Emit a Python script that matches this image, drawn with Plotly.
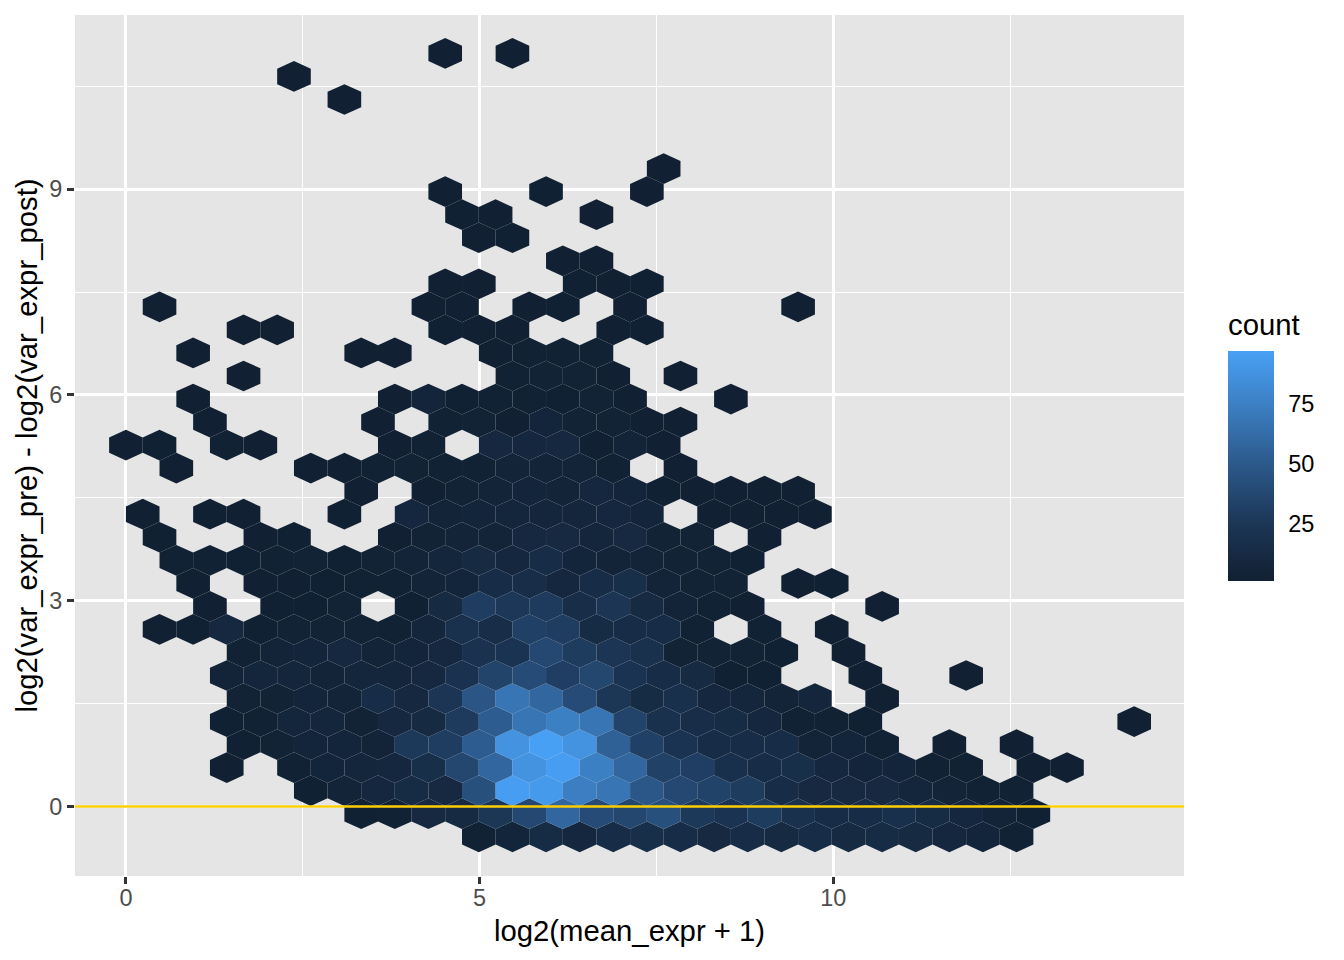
import plotly.graph_objects as go

# Hexagon bins: column index, count, per row (row 0 is the lowest)
cols_r00 = [21,23,25,27,29,31,33,35,37,39,41,43,45,47,49,51,53]
vals_r00 = [3,6,13,9,15,17,14,11,14,12,14,12,13,12,9,6,3]
cols_r01 = [14,16,18,20,22,24,26,28,30,32,34,36,38,40,42,44,46,48,50,52,54]
vals_r01 = [2,3,11,12,25,38,58,40,37,43,27,22,29,20,15,14,18,13,9,5,2]
cols_r02 = [11,13,15,17,19,21,23,25,27,29,31,33,35,37,39,41,43,45,47,49,51,53]
vals_r02 = [2,5,9,13,11,43,95,93,74,68,48,38,34,29,14,11,11,11,7,5,3,3]
cols_r03 = [6,10,12,14,16,18,20,22,24,26,28,30,32,34,36,38,40,42,44,46,48,50,54,56]
vals_r03 = [1,3,6,7,9,17,37,58,88,95,75,58,33,31,18,14,17,9,6,6,3,3,1,1]
cols_r04 = [7,9,11,13,15,17,19,21,23,25,27,29,31,33,35,37,39,41,43,45,49,53]
vals_r04 = [2,4,6,6,5,27,30,52,88,97,88,55,32,22,15,14,14,5,6,3,1,1]
cols_r05 = [6,8,10,12,14,16,18,20,22,24,26,28,30,32,34,36,38,40,42,44,60]
vals_r05 = [2,3,7,8,4,10,12,28,52,68,75,68,35,20,16,13,9,3,3,2,1]
cols_r06 = [7,9,11,13,15,17,19,21,23,25,27,29,31,33,35,37,39,41,45]
vals_r06 = [4,4,6,5,15,10,24,47,68,58,40,25,13,18,9,8,5,8,1]
cols_r07 = [6,8,10,12,14,16,18,20,22,24,26,28,30,32,34,36,38,44,50]
vals_r07 = [5,7,7,5,7,8,10,21,35,40,31,37,22,15,12,2,2,1,1]
cols_r08 = [7,9,11,13,15,17,19,21,23,25,27,29,31,33,35,37,39,43]
vals_r08 = [3,5,6,10,5,6,10,21,22,38,29,24,20,4,4,4,2,1]
cols_r09 = [2,4,6,8,10,12,14,16,18,20,22,24,26,28,30,32,34,38,42]
vals_r09 = [1,2,10,2,4,4,4,3,7,20,16,32,30,13,15,14,3,3,1]
cols_r10 = [5,9,11,13,17,19,21,23,25,27,29,31,33,35,37,45]
vals_r10 = [1,2,2,4,2,12,30,26,28,16,24,12,5,3,1,1]
cols_r11 = [4,8,10,12,14,16,18,20,22,24,26,28,30,32,34,36,40,42]
vals_r11 = [1,1,1,2,3,3,5,6,14,16,9,15,17,5,4,4,1,2]
cols_r12 = [3,5,7,9,11,13,15,17,19,21,23,25,27,29,31,33,35,37]
vals_r12 = [3,3,2,3,4,2,4,5,7,12,9,15,6,5,5,4,4,2]
cols_r13 = [2,8,10,16,18,20,22,24,26,28,30,32,34,38]
vals_r13 = [2,1,2,1,4,5,5,10,11,8,11,4,4,1]
cols_r14 = [1,5,7,13,17,19,21,23,25,27,29,31,35,37,39,41]
vals_r14 = [1,2,1,2,9,5,6,7,8,7,9,6,1,1,1,1]
cols_r15 = [14,18,20,22,24,26,28,30,32,34,36,38,40]
vals_r15 = [1,1,4,5,6,5,9,6,2,1,1,1,1]
cols_r16 = [3,11,13,15,17,19,21,23,25,27,29,33]
vals_r16 = [1,1,1,3,4,3,3,5,5,5,3,1]
cols_r17 = [0,2,6,8,16,18,22,24,26,28,30,32]
vals_r17 = [1,2,3,1,1,3,10,9,10,1,5,1]
cols_r18 = [5,15,19,21,23,25,27,29,31,33]
vals_r18 = [1,1,3,4,1,6,4,4,1,1]
cols_r19 = [4,16,18,20,22,24,26,28,30,36]
vals_r19 = [1,1,6,2,3,3,2,4,1,1]
cols_r20 = [7,23,25,27,29,33]
vals_r20 = [1,3,4,4,1,1]
cols_r21 = [4,14,16,22,24,26,28]
vals_r21 = [1,1,1,1,3,3,3]
cols_r22 = [7,9,19,21,23,29,31]
vals_r22 = [1,1,2,1,1,1,2]
cols_r23 = [2,18,20,24,26,30,40]
vals_r23 = [1,1,1,1,2,1,1]
cols_r24 = [19,21,27,29,31]
vals_r24 = [1,1,2,1,2]
cols_r25 = [26,28]
vals_r25 = [1,1]
cols_r26 = [21,23]
vals_r26 = [1,2]
cols_r27 = [20,22,28]
vals_r27 = [2,1,1]
cols_r28 = [19,25,31]
vals_r28 = [1,2,1]
cols_r29 = [32]
vals_r29 = [1]
cols_r32 = [13]
vals_r32 = [1]
cols_r33 = [10]
vals_r33 = [1]
cols_r34 = [19,23]
vals_r34 = [1,1]

x_ticks = [0, 5, 10]
y_ticks = [0, 3, 6, 9]
legend_ticks = [25, 50, 75]
count_min, count_max = 1, 97

rows = [
    (0, cols_r00, vals_r00), (1, cols_r01, vals_r01), (2, cols_r02, vals_r02),
    (3, cols_r03, vals_r03), (4, cols_r04, vals_r04), (5, cols_r05, vals_r05),
    (6, cols_r06, vals_r06), (7, cols_r07, vals_r07), (8, cols_r08, vals_r08),
    (9, cols_r09, vals_r09), (10, cols_r10, vals_r10), (11, cols_r11, vals_r11),
    (12, cols_r12, vals_r12), (13, cols_r13, vals_r13), (14, cols_r14, vals_r14),
    (15, cols_r15, vals_r15), (16, cols_r16, vals_r16), (17, cols_r17, vals_r17),
    (18, cols_r18, vals_r18), (19, cols_r19, vals_r19), (20, cols_r20, vals_r20),
    (21, cols_r21, vals_r21), (22, cols_r22, vals_r22), (23, cols_r23, vals_r23),
    (24, cols_r24, vals_r24), (25, cols_r25, vals_r25), (26, cols_r26, vals_r26),
    (27, cols_r27, vals_r27), (28, cols_r28, vals_r28), (29, cols_r29, vals_r29),
    (32, cols_r32, vals_r32), (33, cols_r33, vals_r33), (34, cols_r34, vals_r34),
]

# bin geometry in data units
half_w = 0.2376
row_h = 0.3359
y_origin = -0.441

stops = [(0.0, (17, 32, 50)), (0.25, (28, 54, 86)), (0.5, (43, 88, 137)),
         (0.75, (59, 125, 192)), (1.0, (72, 160, 245))]
colorscale = [[p, "rgb(%d,%d,%d)" % c] for p, c in stops]


def colour(v):
    t = (v - count_min) / (count_max - count_min)
    for (p0, c0), (p1, c1) in zip(stops, stops[1:]):
        if t <= p1:
            f = (t - p0) / (p1 - p0)
            return "rgb(%d,%d,%d)" % tuple(round(a + (b - a) * f) for a, b in zip(c0, c1))
    return "rgb(%d,%d,%d)" % stops[-1][1]


fig = go.Figure()
for r, cols, vals in rows:
    cy = y_origin + r * row_h
    for k, v in zip(cols, vals):
        cx = k * half_w
        fig.add_trace(go.Scatter(
            x=[cx, cx + half_w, cx + half_w, cx, cx - half_w, cx - half_w, cx],
            y=[cy + row_h * 2 / 3, cy + row_h / 3, cy - row_h / 3, cy - row_h * 2 / 3,
               cy - row_h / 3, cy + row_h / 3, cy + row_h * 2 / 3],
            mode="lines", line=dict(width=0), fill="toself", fillcolor=colour(v),
            hoverinfo="skip", showlegend=False))

# colour bar, in paper fractions of the 1109 x 861 panel
bar_x0 = 1.0397
bar_x1 = 1.0812
bar_y0 = 0.3426
bar_h = 0.2671
fig.add_trace(go.Scatter(
    x=[None], y=[None], mode="markers", showlegend=False, hoverinfo="skip",
    marker=dict(
        color=[count_min], cmin=count_min, cmax=count_max, colorscale=colorscale,
        showscale=True,
        colorbar=dict(
            x=bar_x0, xanchor="left", xpad=0, y=bar_y0, yanchor="bottom", ypad=0,
            lenmode="pixels", len=230, thicknessmode="pixels", thickness=46,
            outlinewidth=0, ticks="outside", ticklen=10, tickwidth=1,
            tickcolor="rgba(255,255,255,0)", tickvals=legend_ticks,
            tickfont=dict(size=23.47, color="#000000"),
        ))))

fig.add_annotation(text="count", xref="paper", yref="paper", x=bar_x0, y=0.64,
                   xanchor="left", yanchor="middle", showarrow=False, xshift=-2,
                   font=dict(size=29.3, color="#000000"))

# white legend ticks on both edges of the bar
for v in legend_ticks:
    yy = bar_y0 + bar_h * (v - count_min) / (count_max - count_min)
    for a, b in ((bar_x0, bar_x0 + 0.0083), (bar_x1 - 0.0083, bar_x1)):
        fig.add_shape(type="line", xref="paper", yref="paper", x0=a, x1=b, y0=yy, y1=yy,
                      line=dict(color="rgba(255,255,255,0.6)", width=1.2), layer="above")

fig.add_hline(y=0, line=dict(color="#FFCE00", width=2.7), layer="above")

axis = dict(showline=False, zeroline=False, showgrid=True, gridcolor="#FFFFFF", gridwidth=2.7,
            ticks="outside", ticklen=7, tickwidth=2.5, tickcolor="#333333",
            tickfont=dict(size=23.47, color="#4D4D4D"))
fig.update_layout(
    width=1344, height=960, autosize=False,
    margin=dict(l=75, r=160, t=15, b=84),
    plot_bgcolor="#E5E5E5", paper_bgcolor="#FFFFFF",
    font=dict(family="Liberation Sans, Arial, sans-serif"),
    xaxis=dict(axis, range=[-0.72, 14.96], tickvals=x_ticks, automargin=False, ticklabelstandoff=-6,
               minor=dict(tickvals=[2.5, 7.5, 12.5], showgrid=True, gridcolor="#FFFFFF", gridwidth=1.3, ticks=""),
               title=dict(text="log2(mean_expr + 1)", font=dict(size=29.3, color="#000000"), standoff=10)),
    yaxis=dict(axis, range=[-1.013, 11.54], tickvals=y_ticks, automargin=False,
               minor=dict(tickvals=[1.5, 4.5, 7.5, 10.5], showgrid=True, gridcolor="#FFFFFF", gridwidth=1.3, ticks=""),
               title=dict(text="log2(var_expr_pre) - log2(var_expr_post)", font=dict(size=29.3, color="#000000"), standoff=2)),
)

fig.write_html("out.html", config={"displayModeBar": False},
               post_script="document.body.style.margin='0';")
